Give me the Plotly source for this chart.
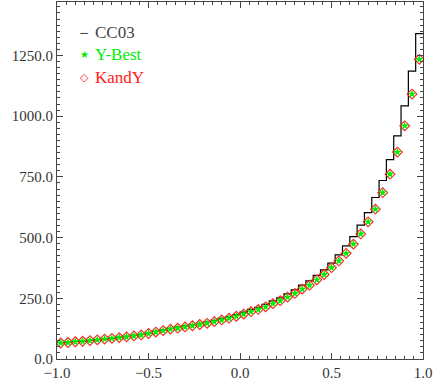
import numpy as np
import plotly.graph_objects as go

# bins: 50 bins from -1 to 1
bin_edges = np.linspace(-1.0, 1.0, 51)
bin_centers = 0.5 * (bin_edges[:-1] + bin_edges[1:])

# CC03 histogram (step line)
cc03 = [67, 69, 72, 74, 77, 80, 83, 86, 90, 93,
        97, 101, 107, 114, 120, 126, 131, 136, 142, 147,
        152, 159, 167, 174, 183, 193, 204, 213, 225, 239,
        252, 268, 285, 304, 322, 344, 367, 395, 429, 466,
        504, 551, 603, 665, 735, 821, 919, 1042, 1185, 1340]

# Y-Best points
ybest = [66, 68, 71, 73, 76, 79, 82, 85, 88, 91,
         95, 99, 105, 111, 117, 123, 127, 132, 137, 142,
         147, 154, 161, 168, 176, 185, 195, 204, 215, 228,
         240, 255, 270, 288, 304, 326, 348, 376, 404, 435,
         473, 515, 565, 617, 685, 761, 852, 960, 1091, 1234]

# KandY points
kandy = [66, 68, 71, 73, 76, 79, 82, 85, 88, 91,
         95, 99, 105, 111, 117, 123, 127, 132, 137, 142,
         147, 154, 161, 168, 176, 185, 195, 204, 215, 228,
         240, 255, 270, 288, 304, 326, 348, 376, 404, 435,
         473, 515, 565, 617, 685, 761, 852, 960, 1091, 1234]

font_family = "Liberation Serif, DejaVu Serif, serif"

fig = go.Figure()

# histogram as step line
fig.add_trace(go.Scatter(
    x=bin_edges,
    y=list(cc03) + [cc03[-1]],
    mode='lines',
    line=dict(color='black', width=1.2, shape='hv'),
    name='CC03',
    showlegend=False,
))

fig.add_trace(go.Scatter(
    x=bin_centers, y=kandy,
    mode='markers',
    marker=dict(symbol='diamond-open', size=7.5, color='#ff2020', line=dict(width=1.1)),
    name='KandY',
    showlegend=False,
))

fig.add_trace(go.Scatter(
    x=bin_centers, y=ybest,
    mode='markers',
    marker=dict(symbol='star', size=6.5, color='#00ee00', line=dict(width=0)),
    name='Y-Best',
    showlegend=False,
))

# hand-made legend
legend_items = [('CC03', '#444444', '\u2212', 12), ('Y-Best', '#00ee00', '\u2605', 10), ('KandY', '#ff2020', '\u25c7', 11)]
legend_y = [0.914, 0.852, 0.788]
for (label, col, sym, sz), yy in zip(legend_items, legend_y):
    fig.add_annotation(x=0.074, y=yy, xref='paper', yref='paper', text=sym, showarrow=False,
                       font=dict(family='DejaVu Sans', size=sz, color=col), xanchor='center', yanchor='middle')
    fig.add_annotation(x=0.098, y=yy, xref='paper', yref='paper', text=label, showarrow=False,
                       font=dict(family=font_family, size=17, color=col), xanchor='left', yanchor='middle')

axis_common = dict(
    showgrid=False, zeroline=False,
    showline=True, linecolor='#444444', linewidth=1,
    mirror='ticks', ticks='inside', ticklen=6, tickcolor='#444444', tickwidth=1,
    tickfont=dict(family=font_family, size=15, color='#333333'),
    tickformat='.1f',
)

fig.update_xaxes(range=[-1.0, 1.0], dtick=0.5, tick0=-1.0,
                 minor=dict(dtick=0.05, ticklen=3, ticks='inside', tickcolor='#444444'),
                 **axis_common)
fig.update_yaxes(range=[0, 1470], dtick=250, tick0=0,
                 minor=dict(dtick=25, ticklen=3, ticks='inside', tickcolor='#444444'),
                 **axis_common)

fig.update_layout(
    width=436, height=382,
    margin=dict(l=57, r=13, t=1, b=22),
    plot_bgcolor='white', paper_bgcolor='white',
    showlegend=False,
)

fig.write_html("out.html", config={'displayModeBar': False},
               post_script="document.body.style.margin='0';")
